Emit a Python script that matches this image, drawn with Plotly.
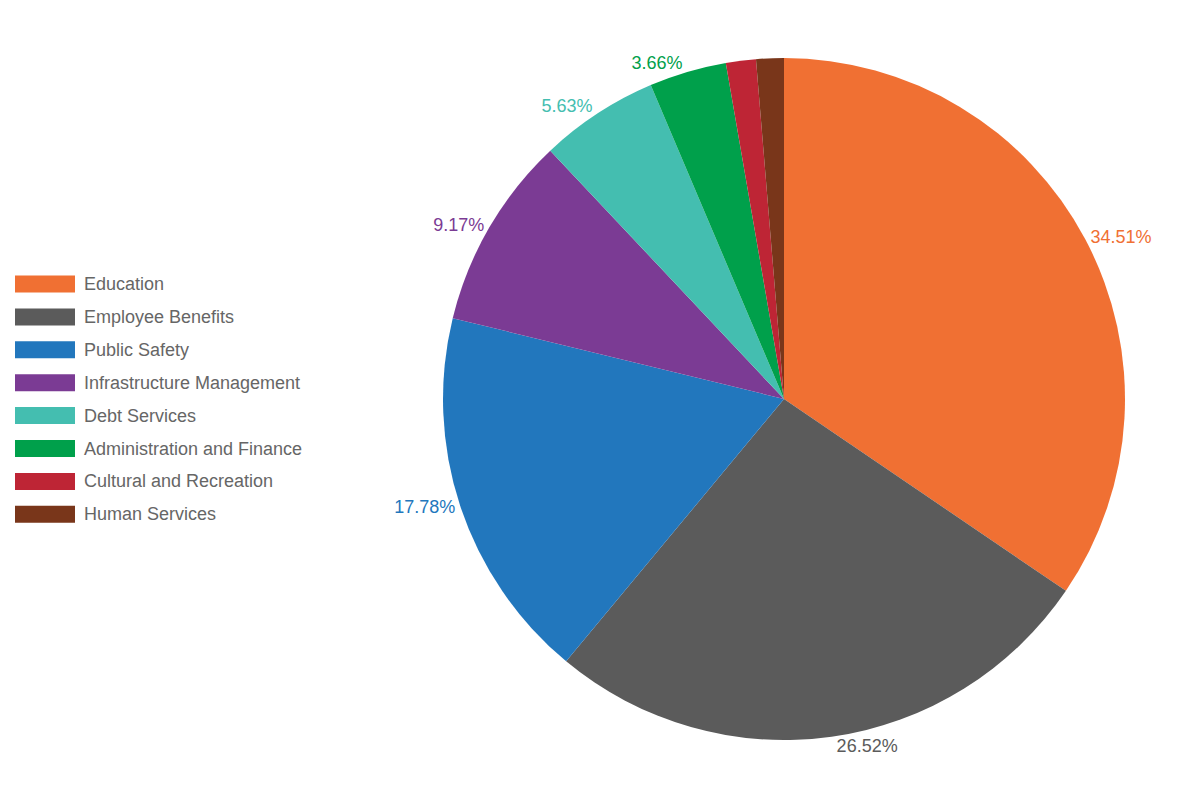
import plotly.graph_objects as go

categories = ["Education", "Employee Benefits", "Public Safety", "Infrastructure Management",
              "Debt Services", "Administration and Finance", "Cultural and Recreation", "Human Services"]
shares = [34.51, 26.52, 17.78, 9.17, 5.63, 3.66, 1.42, 1.31]
colors = ["#F07033", "#5B5B5B", "#2277BD", "#7B3B94", "#44BEB0", "#00A04B", "#BE2535", "#79361A"]

W, H = 1200, 799
FONT = "Liberation Sans, Arial, sans-serif"
labels_text = [f"{v:.2f}%" if v >= 3 else "" for v in shares]

fig = go.Figure()
fig.add_trace(go.Pie(
    labels=categories, values=shares, sort=False, direction="clockwise", rotation=0,
    marker=dict(colors=colors, line=dict(width=0)),
    text=labels_text, textinfo="text", textposition="outside",
    outsidetextfont=dict(color=colors, size=18, family=FONT),
    hoverinfo="label+percent", showlegend=False,
    domain=dict(x=[443 / W, 1125 / W], y=[(400 - 341) / H, (400 + 341) / H]),
))

shapes = []
annotations = []
y0 = 284
step = 32.9
for i, (cat, col) in enumerate(zip(categories, colors)):
    yc = y0 + i * step
    shapes.append(dict(type="rect", xref="paper", yref="paper",
                       x0=15 / W, x1=75 / W, y0=1 - (yc - 8.5) / H, y1=1 - (yc + 8.5) / H,
                       fillcolor=col, line=dict(width=0)))
    annotations.append(dict(xref="paper", yref="paper", x=82 / W, y=1 - yc / H,
                            xanchor="left", yanchor="middle", showarrow=False, text=cat,
                            font=dict(size=18, color="#666666", family=FONT)))

fig.update_layout(
    width=W, height=H, margin=dict(l=0, r=0, t=0, b=0),
    paper_bgcolor="white", plot_bgcolor="white",
    shapes=shapes, annotations=annotations,
    font=dict(family=FONT),
)
fig.write_html("out.html")
